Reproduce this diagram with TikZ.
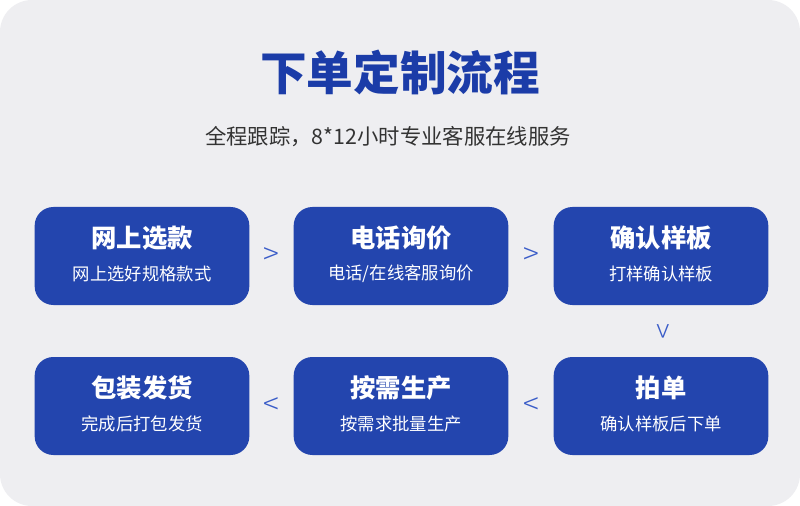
\documentclass[tikz,border=0pt]{standalone}
\usepackage{fontspec}
\usetikzlibrary{calc}
\setmainfont{Noto Sans CJK SC}
\newfontfamily\cjklight{Noto Sans CJK SC Light}
\definecolor{bluebox}{HTML}{2345AE}
\definecolor{titleblue}{HTML}{1B3CA8}
\definecolor{chev}{HTML}{3A5CC8}
\definecolor{bgc}{HTML}{EEEEF1}
\begin{document}
\begin{tikzpicture}[x=0.75pt,y=-0.75pt,
  stepbox/.style={draw=none,fill=bluebox,rounded corners=14pt,minimum width=161pt,minimum height=73.5pt,inner sep=0pt},
  chevtxt/.style={text=chev,font=\cjklight\fontsize{22}{22}\selectfont,inner sep=0pt}]
\useasboundingbox (0,0) rectangle (800,506);
\fill[white] (0,0) rectangle (800,506);
\fill[bgc,rounded corners=24pt] (0,0) rectangle (800,506);
\node[text=titleblue,font=\bfseries\fontsize{35}{35}\selectfont] (title) at (400,72) {下单定制流程};
\node[text=black!80,font=\fontsize{16}{16}\selectfont] (sub) at (388,137) {全程跟踪，8*12小时专业客服在线服务};
\newcommand{\stepnode}[5]{%
  \node[stepbox] (#1) at (#2,#3) {};
  \node[text=white,font=\bfseries\fontsize{19}{19}\selectfont] at (#2,#3-18) {#4};
  \node[text=white,font=\fontsize{13}{13}\selectfont] at (#2,#3+18) {#5};}
\stepnode{a}{142}{256}{网上选款}{网上选好规格款式}
\stepnode{b}{401}{256}{电话询价}{电话/在线客服询价}
\stepnode{c}{661}{256}{确认样板}{打样确认样板}
\stepnode{d}{661}{406}{拍单}{确认样板后下单}
\stepnode{e}{401}{406}{按需生产}{按需求批量生产}
\stepnode{f}{142}{406}{包装发货}{完成后打包发货}
\node[chevtxt] (ab) at ($(a.east)!0.5!(b.west)$) {>};
\node[chevtxt] (bc) at ($(b.east)!0.5!(c.west)$) {>};
\node[chevtxt,rotate=-90] (cd) at ($(c.south)!0.5!(d.north)$) {>};
\node[chevtxt] (de) at ($(d.west)!0.5!(e.east)$) {<};
\node[chevtxt] (ef) at ($(e.west)!0.5!(f.east)$) {<};
\end{tikzpicture}
\end{document}
